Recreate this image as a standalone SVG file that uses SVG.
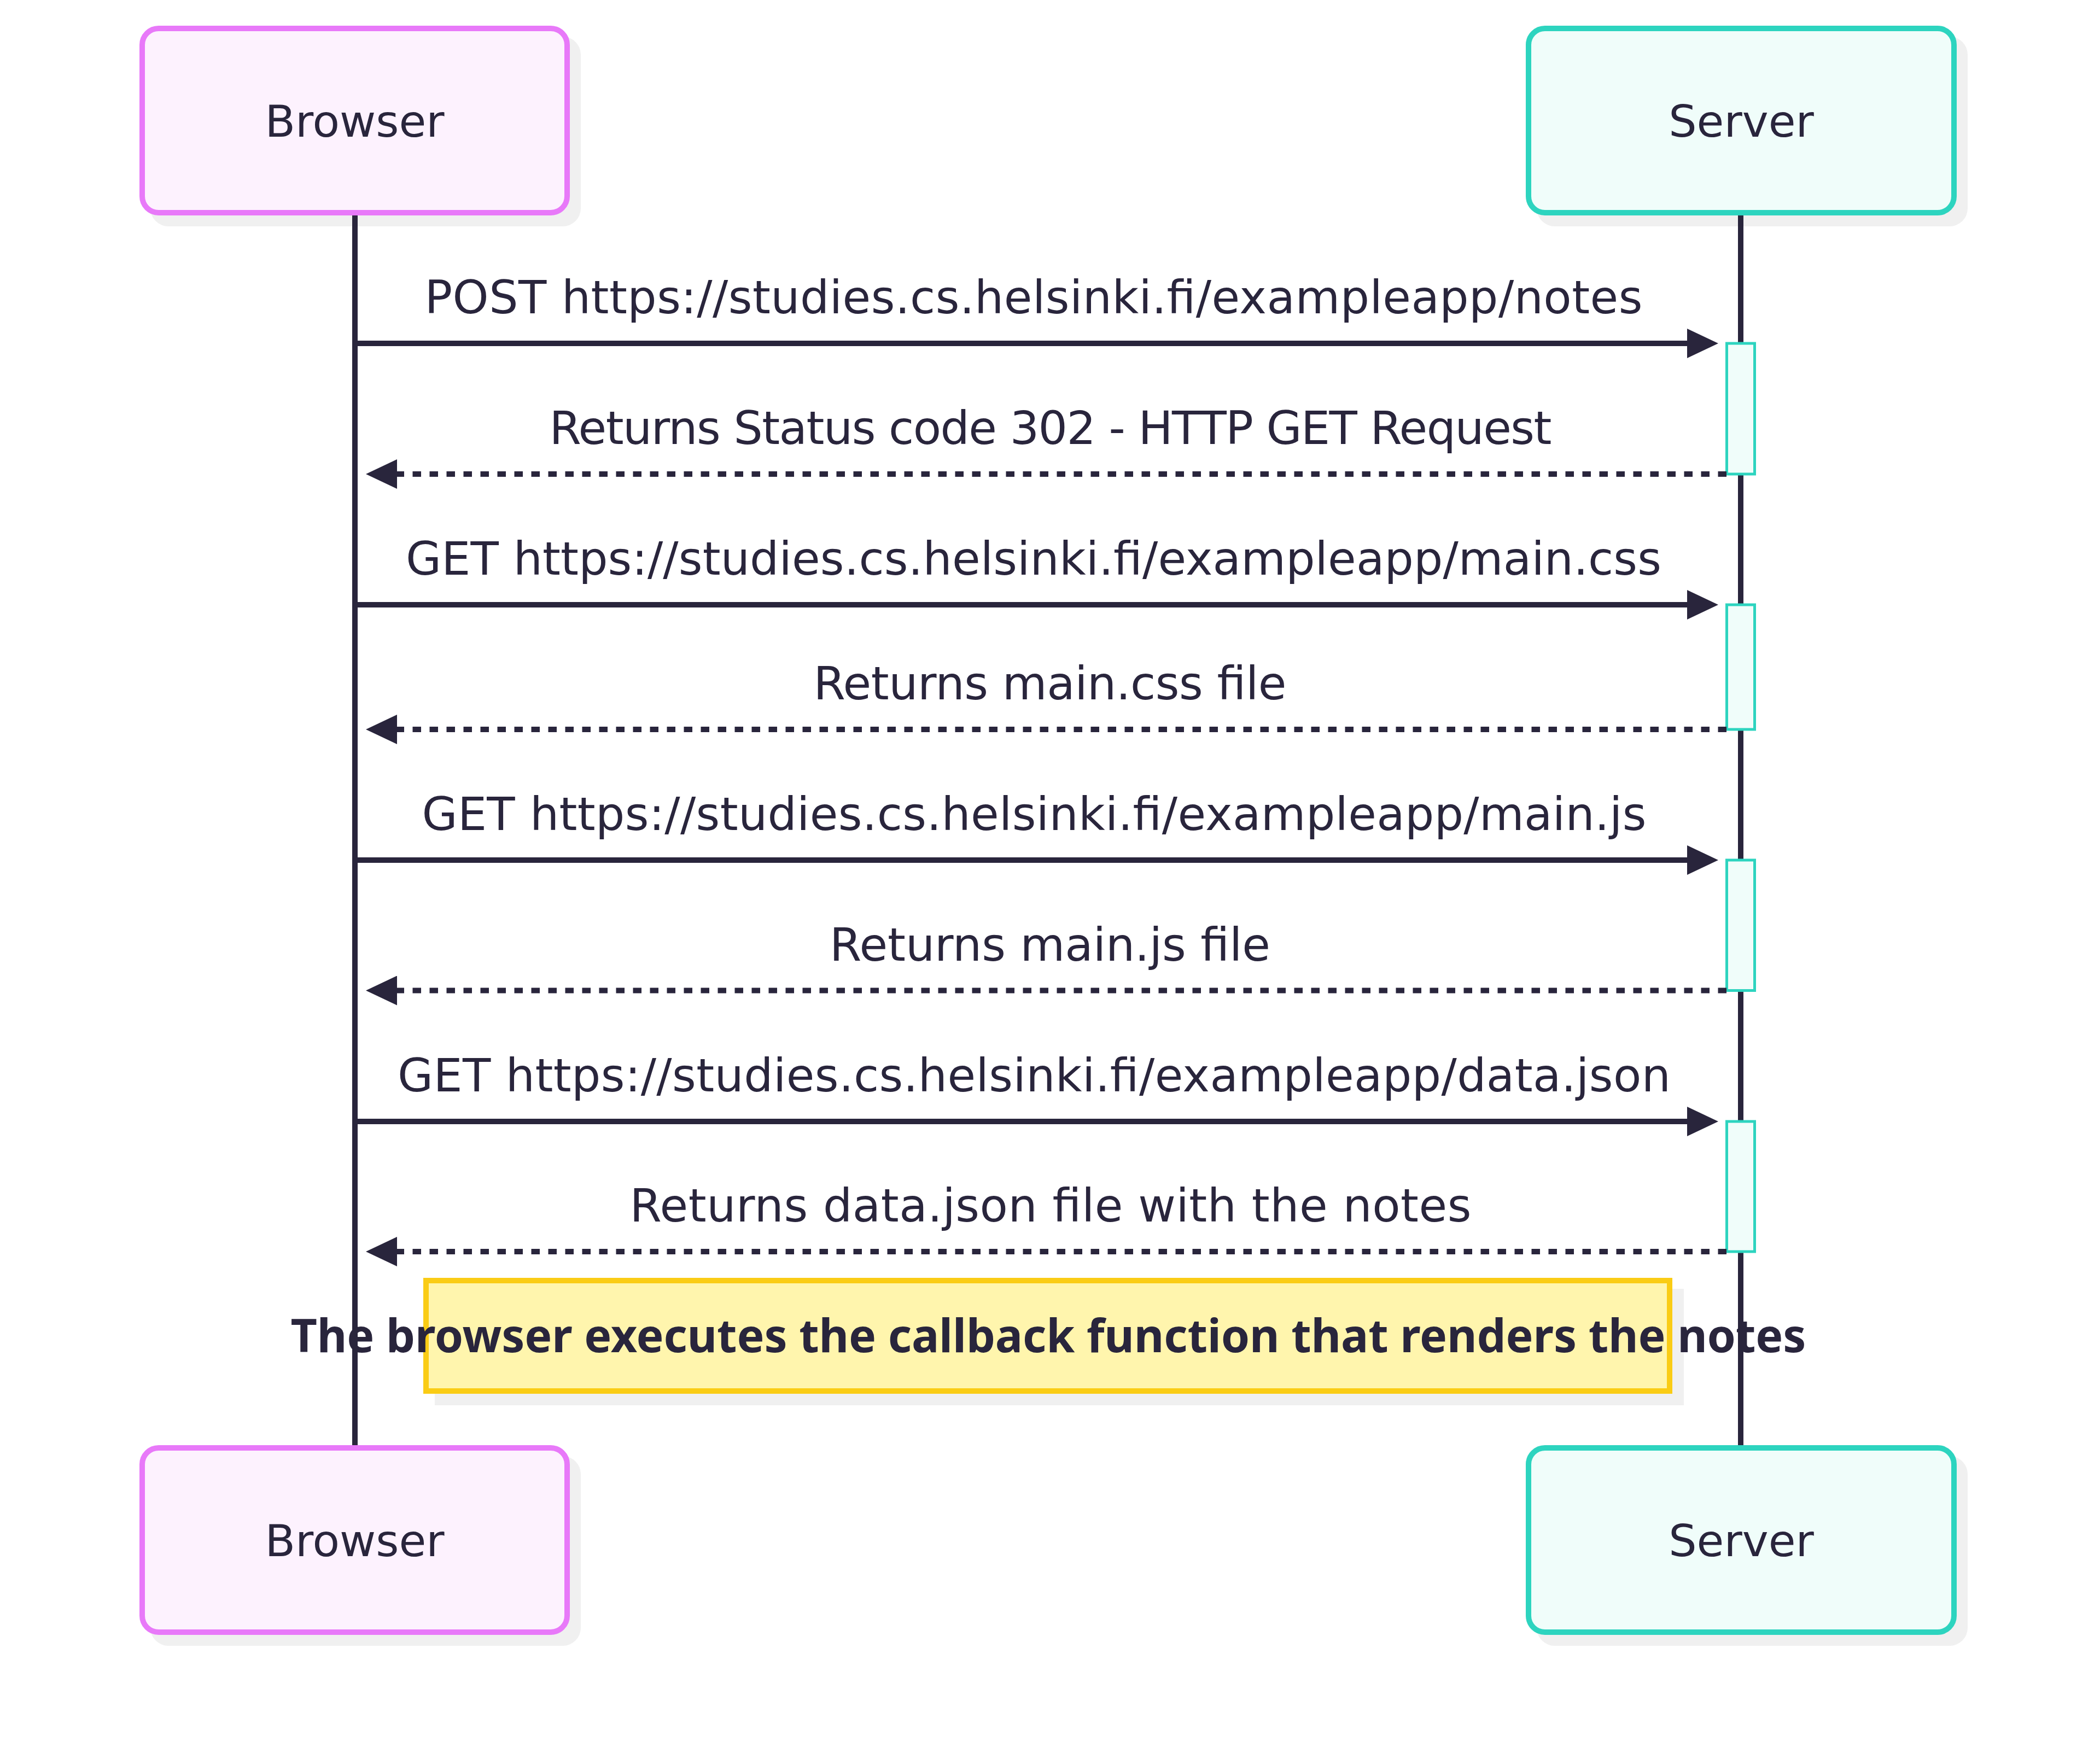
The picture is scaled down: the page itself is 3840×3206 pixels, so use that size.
<svg xmlns="http://www.w3.org/2000/svg" width="3840" height="3206" viewBox="0 0 3840 3206">
<style>
.bg{fill:#ffffff}
.shadow{fill:#f0f0f0}
.actB{fill:#fdf2fe;stroke:#e879f9;stroke-width:10}
.actS{fill:#f0fdfa;stroke:#2dd4bf;stroke-width:10}
.actT{font-family:"DejaVu Sans",sans-serif;font-size:81px;fill:#29253c;text-anchor:middle}
.life{stroke:#29253c;stroke-width:10;fill:none}
.activation{fill:#f0fdfa;stroke:#2dd4bf;stroke-width:5}
.msg{stroke:#29253c;stroke-width:10;fill:none}
.dash{stroke-dasharray:15.5 15.5}
.msgT{font-family:"DejaVu Sans",sans-serif;font-size:84px;fill:#29253c;text-anchor:middle}
.note{fill:#fff5ad;stroke:#facc15;stroke-width:10}
.noteT{font-family:"Noto Sans","DejaVu Sans",sans-serif;font-weight:bold;font-size:84px;fill:#29253c;text-anchor:middle}
</style>
<defs>
<marker id="arrow" viewBox="0 0 57 54" refX="2" refY="27" markerWidth="57" markerHeight="54" markerUnits="userSpaceOnUse" orient="auto">
<path d="M0,0 L57,27 L0,54 Z" fill="#29253c"/>
</marker>
</defs>
<rect class="bg" x="0" y="0" width="3840" height="3206"/>

<g id="browser-top">
<rect class="shadow" x="275" y="67" width="787" height="347" rx="33"/>
<rect class="actB" x="260" y="52" width="777" height="337" rx="30"/>
<text class="actT" x="648.5" y="250">Browser</text>
</g>
<g id="server-top">
<rect class="shadow" x="2810" y="67" width="788" height="347" rx="33"/>
<rect class="actS" x="2795" y="52" width="778" height="337" rx="30"/>
<text class="actT" x="3184" y="250">Server</text>
</g>

<g id="lifelines">
<line class="life" x1="649" y1="394" x2="649" y2="2648"/>
<line class="life" x1="3183" y1="394" x2="3183" y2="2648"/>
</g>

<g id="activations">
<rect class="activation" x="3157.5" y="628" width="51" height="239"/>
<rect class="activation" x="3157.5" y="1106" width="51" height="228"/>
<rect class="activation" x="3157.5" y="1573" width="51" height="238.5"/>
<rect class="activation" x="3157.5" y="2051" width="51" height="238"/>
</g>

<g id="connectors">
<line class="msg" x1="649" y1="628" x2="3087" y2="628" marker-end="url(#arrow)"/>
<text class="msgT" x="1890" y="573" textLength="2227">POST https://studies.cs.helsinki.fi/exampleapp/notes</text>
<line class="msg dash" x1="3157" y1="867" x2="724" y2="867" marker-end="url(#arrow)"/>
<text class="msgT" x="1921" y="812" textLength="1833">Returns Status code 302 - HTTP GET Request</text>
<line class="msg" x1="649" y1="1106" x2="3087" y2="1106" marker-end="url(#arrow)"/>
<text class="msgT" x="1890" y="1051" textLength="2296">GET https://studies.cs.helsinki.fi/exampleapp/main.css</text>
<line class="msg dash" x1="3157" y1="1334" x2="724" y2="1334" marker-end="url(#arrow)"/>
<text class="msgT" x="1920" y="1279" textLength="865">Returns main.css file</text>
<line class="msg" x1="649" y1="1573" x2="3087" y2="1573" marker-end="url(#arrow)"/>
<text class="msgT" x="1891" y="1518" textLength="2239">GET https://studies.cs.helsinki.fi/exampleapp/main.js</text>
<line class="msg dash" x1="3157" y1="1811.5" x2="724" y2="1811.5" marker-end="url(#arrow)"/>
<text class="msgT" x="1920" y="1756.5" textLength="806">Returns main.js file</text>
<line class="msg" x1="649" y1="2051" x2="3087" y2="2051" marker-end="url(#arrow)"/>
<text class="msgT" x="1891" y="1996" textLength="2328">GET https://studies.cs.helsinki.fi/exampleapp/data.json</text>
<line class="msg dash" x1="3157" y1="2289" x2="724" y2="2289" marker-end="url(#arrow)"/>
<text class="msgT" x="1921" y="2234" textLength="1539">Returns data.json file with the notes</text>
</g>

<g id="note">
<rect class="shadow" x="795" y="2357" width="2284" height="213"/>
<rect class="note" x="779" y="2342" width="2274" height="202"/>
<text class="noteT" x="1917" y="2473" textLength="2771">The browser executes the callback function that renders the notes</text>
</g>

<g id="browser-bottom">
<rect class="shadow" x="275" y="2663" width="787" height="347" rx="33"/>
<rect class="actB" x="260" y="2648" width="777" height="337" rx="30"/>
<text class="actT" x="648.5" y="2846">Browser</text>
</g>
<g id="server-bottom">
<rect class="shadow" x="2810" y="2663" width="788" height="347" rx="33"/>
<rect class="actS" x="2795" y="2648" width="778" height="337" rx="30"/>
<text class="actT" x="3184" y="2846">Server</text>
</g>
</svg>
